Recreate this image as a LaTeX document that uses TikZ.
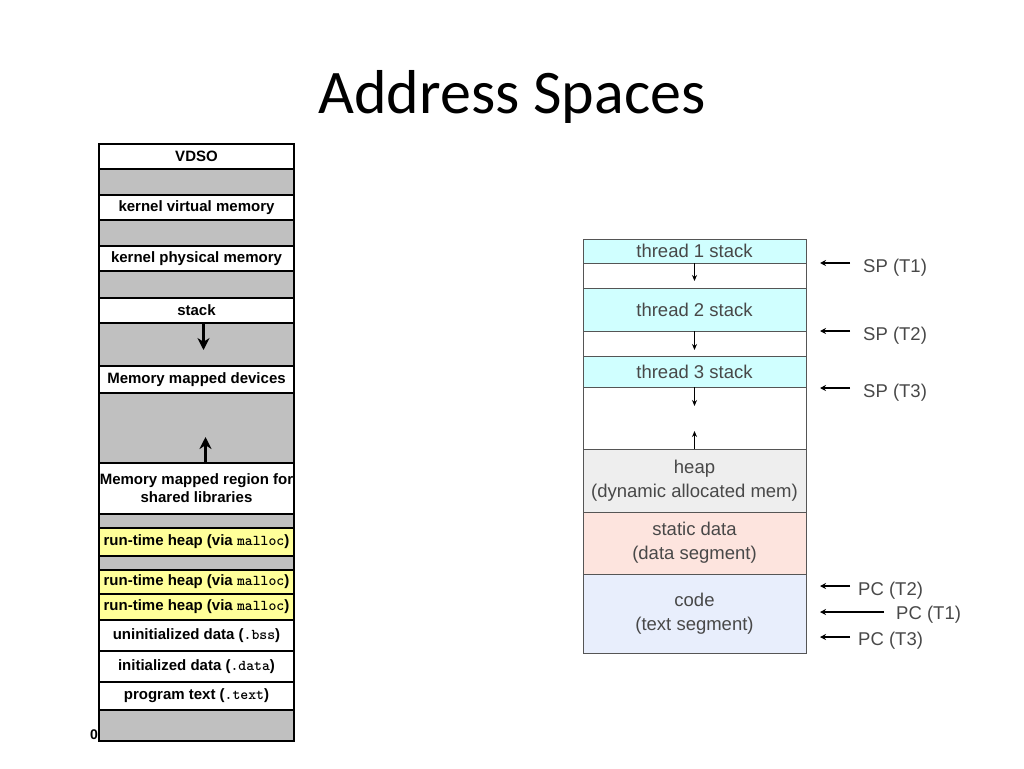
\documentclass[tikz,border=0pt]{standalone}
\usepackage{fontspec}
\setmainfont{Liberation Sans}
\newfontfamily\titlefont{Carlito}
\usepackage{tikz}
\usetikzlibrary{arrows.meta, positioning, calc}
\definecolor{mem-gray}{RGB}{192,192,192}
\definecolor{mem-yellow}{RGB}{255,255,153}
\definecolor{thr-cyan}{RGB}{208,255,255}
\definecolor{thr-heap}{RGB}{238,238,238}
\definecolor{thr-pink}{RGB}{253,228,222}
\definecolor{thr-code}{RGB}{232,238,252}
\definecolor{thr-line}{RGB}{85,85,85}
\definecolor{thr-text}{RGB}{72,72,72}

\begin{document}
\begin{tikzpicture}[
    x=1pt, y=-1pt,
    seg/.style={rectangle, draw=black, line width=2.5pt, fill=white, minimum width=195pt, inner sep=0pt, outer sep=0pt, align=center, font=\fontsize{15}{18}\selectfont\bfseries},
    gap/.style={seg, fill=mem-gray},
    heapseg/.style={seg, fill=mem-yellow},
    tseg/.style={rectangle, draw=thr-line, line width=1pt, fill=white, minimum width=223pt, inner sep=0pt, outer sep=0pt, align=center, text=thr-text, font=\fontsize{18.5}{24}\selectfont},
    lbl/.style={anchor=west, inner sep=0pt, text=thr-text, font=\fontsize{18.5}{20}\selectfont},
    arrow/.style={-{Stealth[length=12pt, width=12pt]}, line width=3pt},
    small/.style={-{Stealth[length=6pt, width=5pt]}, line width=1.2pt},
    ptr/.style={-{Stealth[length=6pt, width=6pt]}, line width=1.3pt}
]
\useasboundingbox (0,0) rectangle (1024,768);

% title
\node (title) at (512,97) {\titlefont\fontsize{62}{66}\selectfont Address Spaces};

% left: process address space
\node[seg, minimum height=25pt, anchor=north] (vdso) at (196.5,144) {VDSO};
\node[gap, minimum height=26pt, below=0pt of vdso] (gapA) {};
\node[seg, minimum height=25pt, below=0pt of gapA] (kvirt) {kernel virtual memory};
\node[gap, minimum height=26pt, below=0pt of kvirt] (gapB) {};
\node[seg, minimum height=25pt, below=0pt of gapB] (kphys) {kernel physical memory};
\node[gap, minimum height=27pt, below=0pt of kphys] (gapC) {};
\node[seg, minimum height=25pt, below=0pt of gapC] (stack) {stack};
\node[gap, minimum height=43pt, below=0pt of stack] (gapD) {};
\node[seg, minimum height=27pt, below=0pt of gapD] (mmdev) {Memory mapped devices};
\node[gap, minimum height=70pt, below=0pt of mmdev] (gapE) {};
\node[seg, minimum height=51pt, below=0pt of gapE] (shlib) {Memory mapped region for\\shared libraries};
\node[gap, minimum height=14pt, below=0pt of shlib] (gapF) {};
\node[heapseg, minimum height=28pt, below=0pt of gapF] (heapA) {run-time heap (via \texttt{malloc})};
\node[gap, minimum height=14pt, below=0pt of heapA] (gapG) {};
\node[heapseg, minimum height=24pt, below=0pt of gapG] (heapB) {run-time heap (via \texttt{malloc})};
\node[heapseg, minimum height=26pt, below=0pt of heapB] (heapC) {run-time heap (via \texttt{malloc})};
\node[seg, minimum height=31pt, below=0pt of heapC] (bss) {uninitialized data (\texttt{.bss})};
\node[seg, minimum height=31pt, below=0pt of bss] (data) {initialized data (\texttt{.data})};
\node[seg, minimum height=28pt, below=0pt of data] (text) {program text (\texttt{.text})};
\node[gap, minimum height=31pt, below=0pt of text] (gapH) {};
\node[anchor=south east, inner sep=1pt, font=\fontsize{14}{17}\selectfont\bfseries] (zero) at (gapH.south west) {0};

\draw[arrow] ([xshift=7pt]stack.south) -- ++(0,27);
\draw[arrow] ([xshift=9pt]shlib.north) -- ++(0,-26);

% right: threads sharing one address space
\node[tseg, fill=thr-cyan, minimum height=24pt, anchor=north] (tstackA) at (694.5,239) {thread 1 stack};
\node[tseg, minimum height=25pt, below=0pt of tstackA] (tfreeA) {};
\node[tseg, fill=thr-cyan, minimum height=43pt, below=0pt of tfreeA] (tstackB) {thread 2 stack};
\node[tseg, minimum height=25pt, below=0pt of tstackB] (tfreeB) {};
\node[tseg, fill=thr-cyan, minimum height=31pt, below=0pt of tfreeB] (tstackC) {thread 3 stack};
\node[tseg, minimum height=62pt, below=0pt of tstackC] (tfreeC) {};
\node[tseg, fill=thr-heap, minimum height=63pt, below=0pt of tfreeC] (heap) {heap\\(dynamic allocated mem)};
\node[tseg, fill=thr-pink, minimum height=62pt, below=0pt of heap] (static) {static data\\(data segment)};
\node[tseg, fill=thr-code, minimum height=79pt, below=0pt of static] (code) {code\\(text segment)};

\draw[small] (tstackA.south) -- ++(0,18);
\draw[small] (tstackB.south) -- ++(0,19);
\draw[small] (tstackC.south) -- ++(0,19);
\draw[small] (heap.north) -- ++(0,-18);

% stack and program pointers
\node[lbl] (spA) at (863,268) {SP (T1)};
\node[lbl] (spB) at (863,336) {SP (T2)};
\node[lbl] (spC) at (863,393) {SP (T3)};
\node[lbl] (pcB) at (858,591) {PC (T2)};
\node[lbl] (pcA) at (896,615) {PC (T1)};
\node[lbl] (pcC) at (858,641) {PC (T3)};

\draw[ptr] ([xshift=-13pt, yshift=5pt]spA.west) -- ++(-30,0);
\draw[ptr] ([xshift=-13pt, yshift=5pt]spB.west) -- ++(-30,0);
\draw[ptr] ([xshift=-13pt, yshift=5pt]spC.west) -- ++(-30,0);
\draw[ptr] ([xshift=-8pt, yshift=5pt]pcB.west) -- ++(-30,0);
\draw[ptr] ([xshift=-12pt, yshift=3pt]pcA.west) -- ++(-64,0);
\draw[ptr] ([xshift=-8pt, yshift=4pt]pcC.west) -- ++(-30,0);
\end{tikzpicture}
\end{document}
